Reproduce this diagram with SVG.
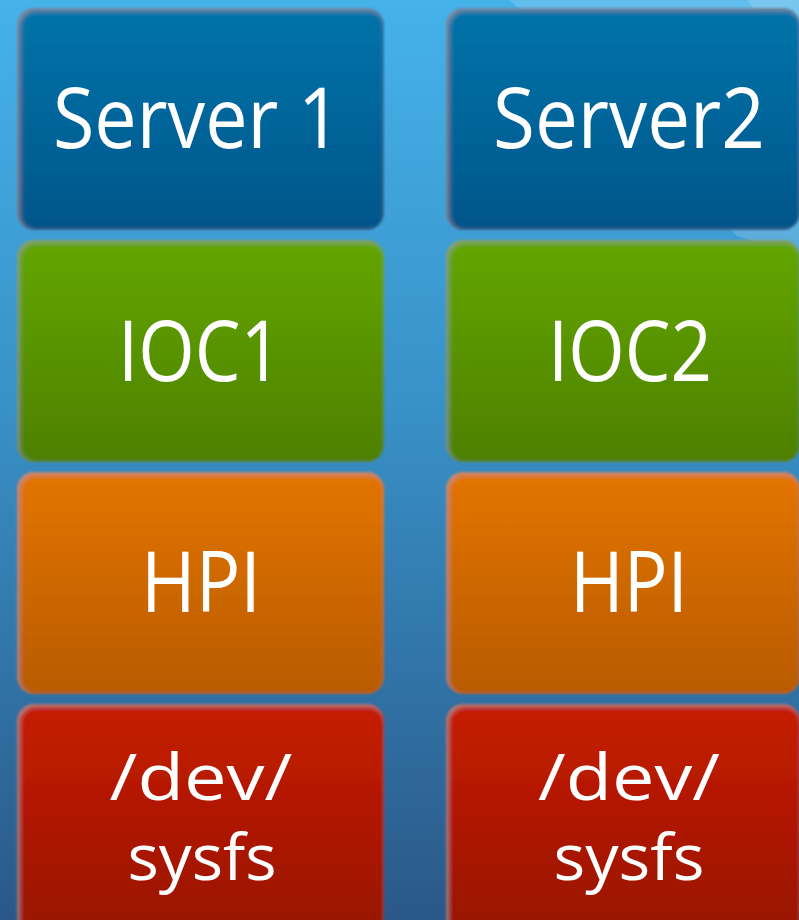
<svg xmlns="http://www.w3.org/2000/svg" width="799" height="920" viewBox="0 0 799 920">
<defs>
<linearGradient id="bg" x1="0" y1="0" x2="0" y2="1">
<stop offset="0" stop-color="#45b2ea"/>
<stop offset="0.45" stop-color="#3890c6"/>
<stop offset="1" stop-color="#2a5888"/>
</linearGradient>
<linearGradient id="gBlue" x1="0" y1="0" x2="0" y2="1">
<stop offset="0" stop-color="#0174aa"/>
<stop offset="1" stop-color="#02568a"/>
</linearGradient>
<linearGradient id="gGreen" x1="0" y1="0" x2="0" y2="1">
<stop offset="0" stop-color="#63a600"/>
<stop offset="1" stop-color="#4e8000"/>
</linearGradient>
<linearGradient id="gOrange" x1="0" y1="0" x2="0" y2="1">
<stop offset="0" stop-color="#e37500"/>
<stop offset="1" stop-color="#b85b00"/>
</linearGradient>
<linearGradient id="gRed" x1="0" y1="0" x2="0" y2="1">
<stop offset="0" stop-color="#c61d00"/>
<stop offset="1" stop-color="#981300"/>
</linearGradient>
<filter id="soft" x="-5%" y="-5%" width="110%" height="110%">
<feGaussianBlur in="SourceAlpha" stdDeviation="2.5" result="b"/>
<feOffset in="b" dx="2" dy="1.5" result="bo"/>
<feComposite in="SourceAlpha" in2="bo" operator="out" result="edge"/>
<feFlood flood-color="#9a9a9a" flood-opacity="0.75"/>
<feComposite in2="edge" operator="in" result="shade"/>
<feMerge result="m"><feMergeNode in="SourceGraphic"/><feMergeNode in="shade"/></feMerge>
<feGaussianBlur in="m" stdDeviation="0.8"/>
</filter>
<style>
.box{filter:url(#soft)}
.lbl{font-family:"Open Sans","Noto Sans","Liberation Sans",sans-serif;fill:#ffffff;text-anchor:middle}
.big{font-size:84px}
.small{font-size:64px}
</style>
</defs>
<rect x="0" y="0" width="799" height="920" fill="url(#bg)"/>
<path d="M510,0 L799,0 L799,255 C780,248 755,242 737,236 C660,150 570,60 510,0 Z" fill="#ffffff" fill-opacity="0.16"/>
<path d="M747,0 L799,0 L799,90 C785,60 765,25 747,0 Z" fill="#ffffff" fill-opacity="0.14"/>
<g id="server1"><rect class="box" x="17" y="8" width="367" height="222" rx="17" fill="url(#gBlue)"/><text class="lbl big" x="197" y="148" textLength="288" lengthAdjust="spacingAndGlyphs">Server 1</text></g>
<g id="server2"><rect class="box" x="446" y="8" width="354" height="222" rx="17" fill="url(#gBlue)"/><text class="lbl big" x="629" y="148" textLength="272" lengthAdjust="spacingAndGlyphs">Server2</text></g>
<g id="ioc1"><rect class="box" x="17" y="240" width="367" height="222" rx="17" fill="url(#gGreen)"/><text class="lbl big" x="200" y="381" textLength="164" lengthAdjust="spacingAndGlyphs">IOC1</text></g>
<g id="ioc2"><rect class="box" x="446" y="240" width="354" height="222" rx="17" fill="url(#gGreen)"/><text class="lbl big" x="630" y="381" textLength="164" lengthAdjust="spacingAndGlyphs">IOC2</text></g>
<g id="hpi1"><rect class="box" x="17" y="472" width="367" height="222" rx="17" fill="url(#gOrange)"/><text class="lbl big" x="201" y="612" textLength="120" lengthAdjust="spacingAndGlyphs">HPI</text></g>
<g id="hpi2"><rect class="box" x="446" y="472" width="354" height="222" rx="17" fill="url(#gOrange)"/><text class="lbl big" x="629" y="612" textLength="118" lengthAdjust="spacingAndGlyphs">HPI</text></g>
<g id="sysfs1"><rect class="box" x="17" y="704" width="367" height="230" rx="17" fill="url(#gRed)"/><text class="lbl small" x="201" y="800" textLength="183" lengthAdjust="spacingAndGlyphs">/dev/</text><text class="lbl small" x="202" y="880" textLength="149" lengthAdjust="spacingAndGlyphs">sysfs</text></g>
<g id="sysfs2"><rect class="box" x="446" y="704" width="354" height="230" rx="17" fill="url(#gRed)"/><text class="lbl small" x="629" y="800" textLength="182" lengthAdjust="spacingAndGlyphs">/dev/</text><text class="lbl small" x="629" y="880" textLength="151" lengthAdjust="spacingAndGlyphs">sysfs</text></g>
</svg>
